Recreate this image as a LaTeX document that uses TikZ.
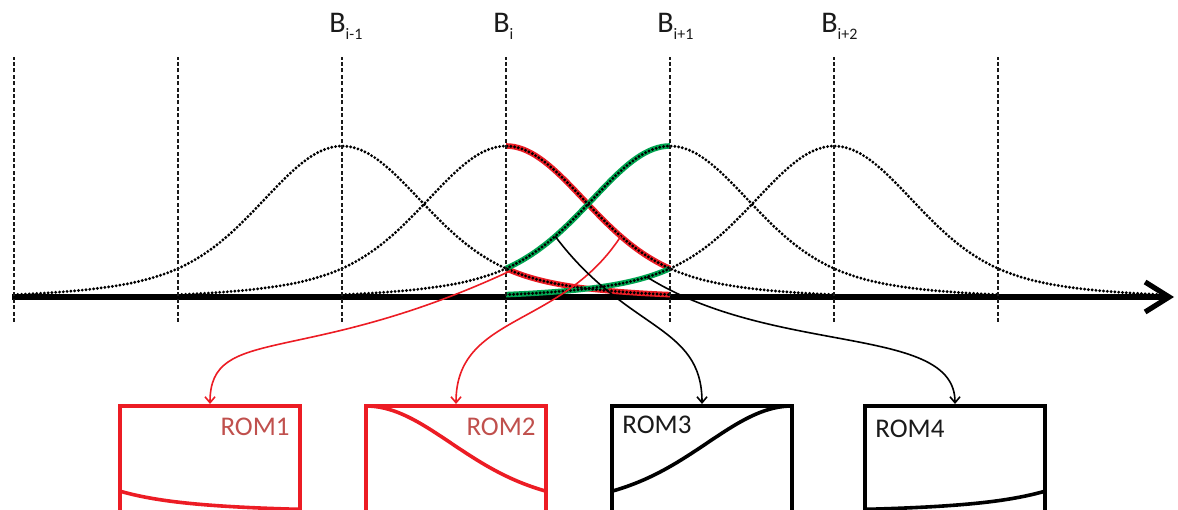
\documentclass[tikz,border=0pt]{standalone}
\usepackage{fontspec}
\setmainfont{Carlito}
\usetikzlibrary{arrows.meta,positioning}
\definecolor{romred}{HTML}{EC1C24}
\definecolor{romtext}{HTML}{C0504D}
\definecolor{hlgreen}{HTML}{00A651}
\definecolor{inkblack}{HTML}{1A1A1A}
\tikzset{declare function={bell(\u)=0.75*exp(-2.469*(\u)*(\u))+0.25*exp(-0.692*(\u)*(\u));}}
\newcommand{\knotlabel}[1]{B\raisebox{-3.5pt}{\fontsize{8}{9}\selectfont #1}}

\begin{document}
\begin{tikzpicture}[
  x=0.5pt,
  y=0.5pt,
  knot/.style={inkblack, line width=0.9pt, dash pattern=on 2pt off 1.2pt},
  bellcurve/.style={black, line width=1.6pt, dash pattern=on 0pt off 1.9pt, line cap=round},
  pickred/.style={romred, line width=2.8pt},
  pickgreen/.style={hlgreen, line width=2.8pt},
  axisline/.style={black, line width=2.6pt, -{Straight Barb[length=12pt,width=15pt]}},
  blabel/.style={inkblack, font=\fontsize{15}{17}\selectfont, inner sep=0pt, anchor=base west},
  rombox/.style={draw, line width=2pt, minimum width=90pt, minimum height=57pt, inner sep=0pt},
  romlabel/.style={font=\fontsize{13.5}{15}\selectfont, inner sep=0pt},
  romcurve/.style={line width=1.8pt},
  feed/.style={line width=0.8pt, -{Straight Barb[length=3pt,width=5pt]}}
]
  \path[clip, use as bounding box] (0,0) rectangle (1178,509);

  \def\kstep{164}
  \def\axisy{212}
  \def\bellh{151}
  \def\xBim{342}
  \def\xBi{506}
  \def\xBip{670}
  \def\xBipp{834}
  \def\xromA{210}
  \def\xromB{456}
  \def\xromC{702}
  \def\xromD{955}
  \def\romzero{-2}
  \def\romh{105}

  % Axis
  \coordinate (ax0) at (12,\axisy);
  \coordinate (ax1) at (1174,\axisy);
  \draw[axisline] (ax0) -- (ax1);

  % Pieces of the four bells between B_i and B_{i+1}
  \draw[pickred] plot[domain=1:2, samples=40] ({\xBim+\kstep*(\x)}, {\axisy+\bellh*bell(\x)});
  \draw[pickred] plot[domain=0:1, samples=40] ({\xBi+\kstep*(\x)}, {\axisy+\bellh*bell(\x)});
  \draw[pickgreen] plot[domain=-1:0, samples=40] ({\xBip+\kstep*(\x)}, {\axisy+\bellh*bell(\x)});
  \draw[pickgreen] plot[domain=-2:-1, samples=40] ({\xBipp+\kstep*(\x)}, {\axisy+\bellh*bell(\x)});

  % Bells
  \draw[bellcurve] plot[domain=-2:2, samples=90] ({\xBim+\kstep*(\x)}, {\axisy+\bellh*bell(\x)});
  \draw[bellcurve] plot[domain=-2:2, samples=90] ({\xBi+\kstep*(\x)}, {\axisy+\bellh*bell(\x)});
  \draw[bellcurve] plot[domain=-2:2, samples=90] ({\xBip+\kstep*(\x)}, {\axisy+\bellh*bell(\x)});
  \draw[bellcurve] plot[domain=-2:2, samples=90] ({\xBipp+\kstep*(\x)}, {\axisy+\bellh*bell(\x)});

  % Knots
  \draw[knot] (14,187) -- (14,452);
  \draw[knot] (178,187) -- (178,452);
  \draw[knot] (\xBim,187) -- (\xBim,452);
  \draw[knot] (\xBi,187) -- (\xBi,452);
  \draw[knot] (\xBip,187) -- (\xBip,452);
  \draw[knot] (\xBipp,187) -- (\xBipp,452);
  \draw[knot] (998,187) -- (998,452);

  \node[blabel] (bim) at (\xBim-13,476) {\knotlabel{i-1}};
  \node[blabel] (bi) at (\xBi-13,476) {\knotlabel{i}};
  \node[blabel] (bip) at (\xBip-13,476) {\knotlabel{i+1}};
  \node[blabel] (bipp) at (\xBipp-13,476) {\knotlabel{i+2}};

  % ROM boxes
  \node[rombox, romred] (rom1) at (\xromA,46) {};
  \node[rombox, romred] (rom2) at (\xromB,46) {};
  \node[rombox, black] (rom3) at (\xromC,46) {};
  \node[rombox, black] (rom4) at (\xromD,46) {};
  \node[romlabel, romtext, below left=7pt and 6pt of rom1.north east] (t1) {ROM1};
  \node[romlabel, romtext, below left=7pt and 6pt of rom2.north east] (t2) {ROM2};
  \node[romlabel, inkblack, below right=6pt and 6pt of rom3.north west] (t3) {ROM3};
  \node[romlabel, inkblack, below right=8pt and 6pt of rom4.north west] (t4) {ROM4};

  \draw[romcurve, romred] plot[domain=0:1, samples=40] ({\xromA-90+180*(\x)}, {\romzero+\romh*bell(1+\x)});
  \draw[romcurve, romred] plot[domain=0:1, samples=40] ({\xromB-90+180*(\x)}, {\romzero+\romh*bell(\x)});
  \draw[romcurve, black] plot[domain=0:1, samples=40] ({\xromC-90+180*(\x)}, {\romzero+\romh*bell(\x-1)});
  \draw[romcurve, black] plot[domain=0:1, samples=40] ({\xromD-90+180*(\x)}, {\romzero+\romh*bell(\x-2)});

  % Feeds from the curves to the ROMs
  \coordinate (s1) at ({\xBim+1.03*\kstep}, {\axisy+\bellh*bell(1.03)});
  \coordinate (s2) at ({\xBi+0.7*\kstep}, {\axisy+\bellh*bell(0.7)});
  \coordinate (s3) at ({\xBip-0.7*\kstep}, {\axisy+\bellh*bell(-0.7)});
  \coordinate (s4) at ({\xBipp-1.14*\kstep}, {\axisy+\bellh*bell(-1.14)});

  \draw[feed, romred] (s1) .. controls +(205:230) and +(90:80) .. (rom1.north);
  \draw[feed, romred] (s2) .. controls +(237:110) and +(90:90) .. (rom2.north);
  \draw[feed, black] (s3) .. controls +(-53:120) and +(90:80) .. (rom3.north);
  \draw[feed, black] (s4) .. controls +(-32:150) and +(90:80) .. (rom4.north);
\end{tikzpicture}
\end{document}
